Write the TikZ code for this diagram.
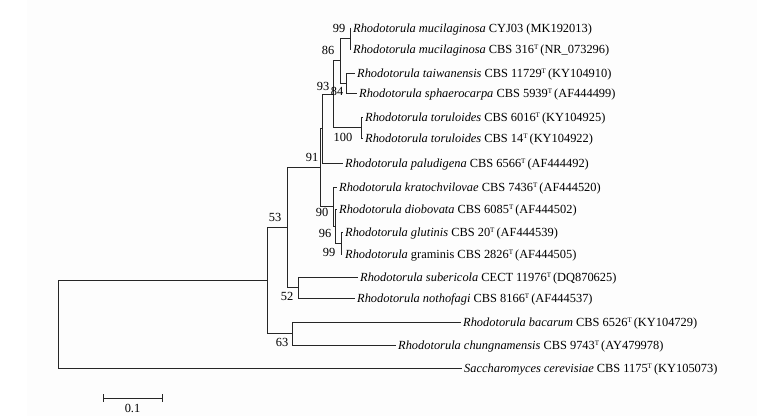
\documentclass[tikz,border=0pt]{standalone}
\usepackage{fontspec}
\setmainfont{Liberation Serif}
\definecolor{bgc}{RGB}{253,253,253}
\newcommand\supT{\raisebox{3.8pt}{\fontsize{7}{7}\selectfont T}\,}
\begin{document}
\begin{tikzpicture}[x=1pt,y=-1pt,
  br/.style={line width=0.8pt, draw=black!85},
  lab/.style={anchor=base west, inner sep=0pt, font=\fontsize{12.4}{14}\selectfont},
  bs/.style={inner sep=0pt, font=\fontsize{12.4}{14}\selectfont}]
\useasboundingbox (0,0) rectangle (777,416);
\fill[bgc] (27,0) rectangle (757,416);
% leaf tips
\coordinate (L1) at (350.5,28);
\coordinate (L2) at (350.5,49);
\coordinate (L3) at (355,73);
\coordinate (L4) at (357,93);
\coordinate (L5) at (363,117);
\coordinate (L6) at (363,138);
\coordinate (L7) at (343,163);
\coordinate (L8) at (337,187);
\coordinate (L9) at (337,209);
\coordinate (L10) at (343,232);
\coordinate (L11) at (342,254);
\coordinate (L12) at (358,277);
\coordinate (L13) at (355,298);
\coordinate (L14) at (461,322);
\coordinate (L15) at (396,345);
\coordinate (L16) at (462,368);
% internal nodes
\coordinate (n99) at (350,38.5);
\coordinate (n84) at (346,83);
\coordinate (n86) at (340,60.75);
\coordinate (ntor) at (361,127.5);
\coordinate (n93) at (333,94);
\coordinate (npal) at (322.5,128.5);
\coordinate (nC) at (341,243);
\coordinate (nB) at (335,226);
\coordinate (n90) at (333,206.5);
\coordinate (n91) at (320,167.5);
\coordinate (n52) at (298,287.5);
\coordinate (n53) at (287,227.5);
\coordinate (n63) at (292,333.5);
\coordinate (nin) at (267,280.5);
\coordinate (root) at (58,324);
% branches
\draw[br] (n99) |- (L1); \draw[br] (n99) |- (L2);
\draw[br] (n84) |- (L3); \draw[br] (n84) |- (L4);
\draw[br] (n86) |- (n99); \draw[br] (n86) |- (n84);
\draw[br] (ntor) |- (L5); \draw[br] (ntor) |- (L6);
\draw[br] (n93) |- (n86); \draw[br] (n93) |- (ntor);
\draw[br] (npal) |- (n93); \draw[br] (npal) |- (L7);
\draw[br] (nC) |- (L10); \draw[br] (nC) |- (L11);
\draw[br] (nB) |- (L9); \draw[br] (nB) |- (nC);
\draw[br] (n90) |- (L8); \draw[br] (n90) |- (nB);
\draw[br] (n91) |- (npal); \draw[br] (n91) |- (n90);
\draw[br] (n52) |- (L12); \draw[br] (n52) |- (L13);
\draw[br] (n53) |- (n91); \draw[br] (n53) |- (n52);
\draw[br] (n63) |- (L14); \draw[br] (n63) |- (L15);
\draw[br] (nin) |- (n53); \draw[br] (nin) |- (n63);
\draw[br] (root) |- (nin); \draw[br] (root) |- (L16);
% leaf labels
\node[lab] (t1) at (353,32) {\textit{Rhodotorula mucilaginosa} CYJ03 (MK192013)};
\node[lab] (t2) at (353,53) {\textit{Rhodotorula mucilaginosa} CBS 316\supT(NR\_073296)};
\node[lab] (t3) at (357,77) {\textit{Rhodotorula taiwanensis} CBS 11729\supT(KY104910)};
\node[lab] (t4) at (359,97) {\textit{Rhodotorula sphaerocarpa} CBS 5939\supT(AF444499)};
\node[lab] (t5) at (365,121) {\textit{Rhodotorula toruloides} CBS 6016\supT(KY104925)};
\node[lab] (t6) at (365,142) {\textit{Rhodotorula toruloides} CBS 14\supT(KY104922)};
\node[lab] (t7) at (345,167) {\textit{Rhodotorula paludigena} CBS 6566\supT(AF444492)};
\node[lab] (t8) at (339,191) {\textit{Rhodotorula kratochvilovae} CBS 7436\supT(AF444520)};
\node[lab] (t9) at (339,213) {\textit{Rhodotorula diobovata} CBS 6085\supT(AF444502)};
\node[lab] (t10) at (345,236) {\textit{Rhodotorula glutinis} CBS 20\supT(AF444539)};
\node[lab] (t11) at (345,258) {\textit{Rhodotorula} graminis CBS 2826\supT(AF444505)};
\node[lab] (t12) at (360,281) {\textit{Rhodotorula subericola} CECT 11976\supT(DQ870625)};
\node[lab] (t13) at (357,302) {\textit{Rhodotorula nothofagi} CBS 8166\supT(AF444537)};
\node[lab] (t14) at (463,326) {\textit{Rhodotorula bacarum} CBS 6526\supT(KY104729)};
\node[lab] (t15) at (398,349) {\textit{Rhodotorula chungnamensis} CBS 9743\supT(AY479978)};
\node[lab] (t16) at (464,372) {\textit{Saccharomyces cerevisiae} CBS 1175\supT(KY105073)};
% bootstrap values
\node[bs] (b99a) at (339,28) {99};
\node[bs] (b86) at (328,50) {86};
\node[bs] (b93) at (323,86) {93};
\node[bs] (b84) at (337,91) {84};
\node[bs] (b100) at (343,137) {100};
\node[bs] (b91) at (312,157) {91};
\node[bs] (b90) at (322,212) {90};
\node[bs] (b96) at (325,233) {96};
\node[bs] (b99b) at (329,252) {99};
\node[bs] (b53) at (275,217) {53};
\node[bs] (b52) at (287,296) {52};
\node[bs] (b63) at (282,342) {63};
% scale bar
\coordinate (sb1) at (103,398);
\coordinate (sb2) at (162,398);
\draw[br] (sb1) -- (sb2);
\draw[br] ([yshift=4pt]sb1) -- ([yshift=-4pt]sb1);
\draw[br] ([yshift=4pt]sb2) -- ([yshift=-4pt]sb2);
\node[bs] (sbl) at (132.5,408) {0.1};
\end{tikzpicture}
\end{document}
